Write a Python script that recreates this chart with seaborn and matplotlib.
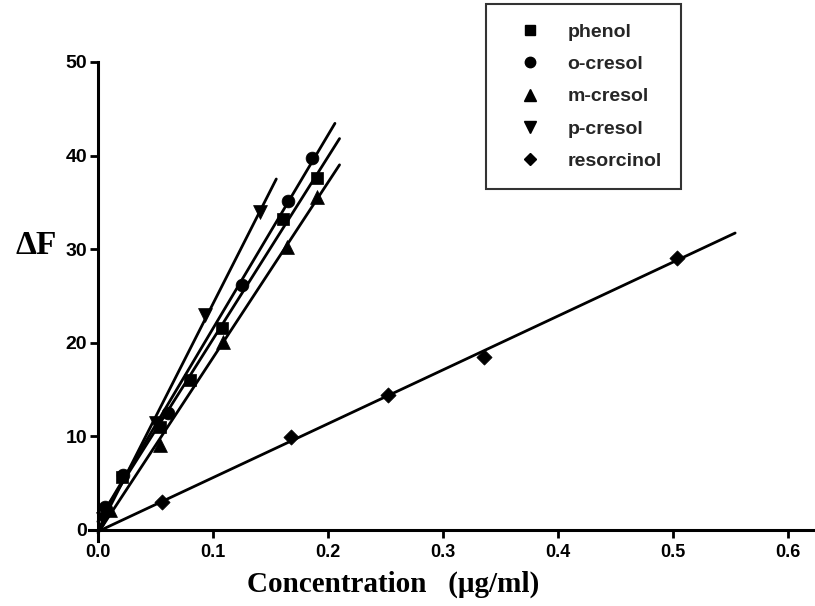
import numpy as np
import pandas as pd
import matplotlib
matplotlib.use("Agg")
import matplotlib.pyplot as plt
from matplotlib.lines import Line2D
import seaborn as sns

# ---------------- data ----------------
series_names = ["phenol", "o-cresol", "m-cresol", "p-cresol", "resorcinol"]

phenol_x = [0.021, 0.054, 0.080, 0.108, 0.161, 0.190]
phenol_y = [5.7, 11.0, 16.0, 21.6, 33.2, 37.6]

ocresol_x = [0.006, 0.022, 0.061, 0.125, 0.165, 0.186]
ocresol_y = [2.5, 5.9, 12.5, 26.2, 35.2, 39.7]

mcresol_x = [0.010, 0.054, 0.109, 0.164, 0.190]
mcresol_y = [2.1, 9.1, 20.1, 30.2, 35.6]

pcresol_x = [0.004, 0.050, 0.093, 0.141]
pcresol_y = [1.2, 11.4, 23.0, 34.0]

resorcinol_x = [0.056, 0.168, 0.252, 0.336, 0.503]
resorcinol_y = [3.0, 9.9, 14.4, 18.5, 29.1]

# end of each fitted line (x)
line_end_x = [0.210, 0.206, 0.210, 0.155, 0.554]

x_ticks = [0.0, 0.1, 0.2, 0.3, 0.4, 0.5, 0.6]
y_ticks = [0, 10, 20, 30, 40, 50]

xs = [phenol_x, ocresol_x, mcresol_x, pcresol_x, resorcinol_x]
ys = [phenol_y, ocresol_y, mcresol_y, pcresol_y, resorcinol_y]
markers = ["s", "o", "^", "v", "D"]
sizes = [70, 85, 100, 100, 60]

df = pd.concat(
    [pd.DataFrame({"x": x, "y": y, "compound": n}) for n, x, y in zip(series_names, xs, ys)],
    ignore_index=True,
)

# ---------------- figure ----------------
sns.set_theme(style="ticks")
plt.rcParams["font.family"] = ["Liberation Sans", "DejaVu Sans"]

fig = plt.figure(figsize=(8.15, 6.06), dpi=100)
ax = fig.add_axes([0.109, 0.1069, 0.8904, 0.7908])

for name, mk, s, xe in zip(series_names, markers, sizes, line_end_x):
    sub = df[df["compound"] == name]
    sns.scatterplot(data=sub, x="x", y="y", marker=mk, s=s, color="black",
                    edgecolor="black", linewidth=0.5, ax=ax, zorder=3, legend=False)
    slope, icpt = np.polyfit(sub["x"], sub["y"], 1)
    lx = np.array([0.0, xe])
    line_df = pd.DataFrame({"x": lx, "y": slope * lx + icpt})
    sns.lineplot(data=line_df, x="x", y="y", color="black", linewidth=2.0,
                 ax=ax, zorder=2, legend=False)

ax.set_xlim(-0.008, 0.623)
ax.set_ylim(-1.2, 50)
ax.set_xticks(x_ticks)
ax.set_xticklabels([f"{v:.1f}" for v in x_ticks])
ax.set_yticks(y_ticks)
ax.set_yticklabels([str(v) for v in y_ticks])

for side in ["top", "right"]:
    ax.spines[side].set_visible(False)
ax.spines["left"].set_position(("data", 0))
ax.spines["bottom"].set_position(("data", 0))
for side in ["left", "bottom"]:
    ax.spines[side].set_linewidth(2.2)
    ax.spines[side].set_color("black")

ax.tick_params(axis="both", direction="out", length=6, width=2, color="black")
ax.tick_params(axis="x", labelsize=13, pad=4)
ax.tick_params(axis="y", labelsize=14, pad=2)
for lab in ax.get_xticklabels() + ax.get_yticklabels():
    lab.set_fontweight("bold")
    lab.set_color("black")

ax.set_xlabel("Concentration   (\u03bcg/ml)", family=["Liberation Serif", "DejaVu Serif"],
              fontweight="bold", fontsize=21, color="black")
ax.xaxis.set_label_coords(0.419, -0.106)
ax.xaxis.label.set_va("baseline")

ax.set_ylabel("\u0394F", family=["Liberation Serif", "DejaVu Serif"], fontweight="bold",
              fontsize=24, rotation=0, color="black")
ax.yaxis.set_label_coords(-0.0728, 0.618)
ax.yaxis.label.set_va("center")
ax.yaxis.label.set_ha("center")

handles = [Line2D([], [], linestyle="none", marker=m, color="black", markersize=ms)
           for m, ms in zip(markers, [7, 7.5, 8, 8, 6.5])]
leg = fig.legend(handles, series_names, loc="upper left",
                 bbox_to_anchor=(0.596, 0.9934), bbox_transform=fig.transFigure,
                 frameon=True, fancybox=False, prop={"weight": "bold", "size": 14},
                 borderpad=1.0, labelspacing=0.75, handlelength=2.6, handletextpad=0.6,
                 borderaxespad=0.0)
leg.get_frame().set_edgecolor("black")
leg.get_frame().set_linewidth(1.5)

fig.savefig("out.png", dpi=100)
